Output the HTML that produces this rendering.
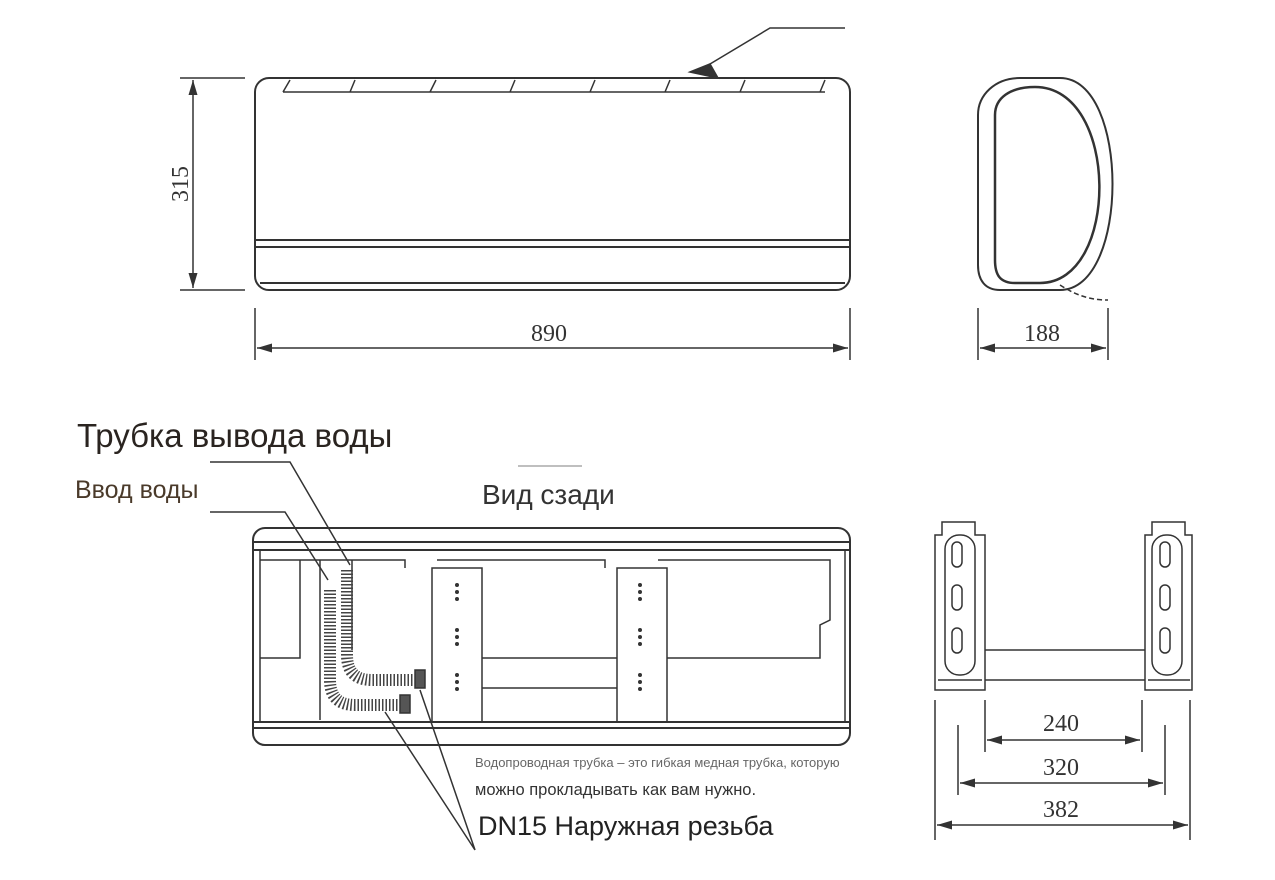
<!DOCTYPE html>
<html><head><meta charset="utf-8"><style>
body{margin:0;background:#fff;width:1275px;height:880px;overflow:hidden}
svg{display:block}
text{font-family:"Liberation Sans",sans-serif}
.s{font-family:"Liberation Serif",serif;font-size:24px;fill:#333}
</style></head><body>
<svg width="1275" height="880" viewBox="0 0 1275 880" fill="none" stroke="#333" stroke-width="1.5">
<defs><marker id="a" markerWidth="10" markerHeight="6" refX="10" refY="3" orient="auto-start-reverse"><path d="M0,0 L10,3 L0,6 z" fill="#333" stroke="none"/></marker></defs>
<rect x="255" y="78" width="595" height="212" rx="14" stroke-width="2"/>
<path d="M283,92 L825,92 M283,92 L290,80 M350,92 L355,80 M430,92 L436,80 M510,92 L515,80 M590,92 L595,80 M665,92 L670,80 M740,92 L745,80 M820,92 L825,80"/>
<path d="M255,240 H850 M255,247 H850 M260,283 H845" stroke-width="2"/>
<path d="M845,28 H770 L700,70" stroke-width="1.5"/>
<path d="M690,72 L710,64 L718,78 Z" fill="#333"/>
<path d="M180,78 H245 M180,290 H245"/>
<line x1="193" y1="80" x2="193" y2="288" marker-start="url(#a)" marker-end="url(#a)"/>
<text class="s" x="0" y="0" transform="translate(188,202) rotate(-90)" stroke="none">315</text>
<path d="M255,308 V360 M850,308 V360"/>
<line x1="257" y1="348" x2="848" y2="348" marker-start="url(#a)" marker-end="url(#a)"/>
<text class="s" x="531" y="341" stroke="none">890</text>
<path d="M1020,78 H1060 C1130,78 1130,290 1060,290 H1000 C985,290 978,280 978,265 V115 C978,95 995,78 1020,78 Z" stroke-width="2"/>
<path d="M1035,87 C1120,87 1120,283 1040,283 H1015 C1000,283 995,275 995,260 V115 C995,98 1010,87 1035,87 Z" stroke-width="2.5"/>
<path d="M1060,285 C1080,298 1095,300 1108,300" stroke-dasharray="5,3"/>
<path d="M978,308 V360 M1108,308 V360"/>
<line x1="980" y1="348" x2="1106" y2="348" marker-start="url(#a)" marker-end="url(#a)"/>
<text class="s" x="1024" y="341" stroke="none">188</text>
<path d="M518,466 H582" stroke="#aaa"/>
<rect x="253" y="528" width="597" height="217" rx="12" stroke-width="2"/>
<path d="M253,542 H850 M253,550 H850 M253,722 H850 M253,728 H850" stroke-width="2"/>
<path d="M260,550 V722 M845,550 V722"/>
<path d="M260,560 H405 V568 M437,560 H605 V568 M658,560 H830 V620 L820,625 V658 H667 M260,658 H300 V560 M320,560 V720 M352,560 V650"/>
<path d="M482,658 H617 M482,688 H617"/>
<rect x="432" y="568" width="50" height="154"/>
<rect x="617" y="568" width="50" height="154"/>
<g fill="#333" stroke="none">
<circle cx="457" cy="585" r="2"/><circle cx="457" cy="592" r="2"/><circle cx="457" cy="599" r="2"/>
<circle cx="457" cy="630" r="2"/><circle cx="457" cy="637" r="2"/><circle cx="457" cy="644" r="2"/>
<circle cx="457" cy="675" r="2"/><circle cx="457" cy="682" r="2"/><circle cx="457" cy="689" r="2"/>
<circle cx="640" cy="585" r="2"/><circle cx="640" cy="592" r="2"/><circle cx="640" cy="599" r="2"/>
<circle cx="640" cy="630" r="2"/><circle cx="640" cy="637" r="2"/><circle cx="640" cy="644" r="2"/>
<circle cx="640" cy="675" r="2"/><circle cx="640" cy="682" r="2"/><circle cx="640" cy="689" r="2"/>
</g>
<path d="M330,590 V680 Q330,705 355,705 H400" stroke-width="12" stroke="#444" stroke-dasharray="1.5,2"/>
<path d="M347,570 V655 Q347,680 372,680 H415" stroke-width="12" stroke="#444" stroke-dasharray="1.5,2"/>
<rect x="400" y="695" width="10" height="18" fill="#555"/>
<rect x="415" y="670" width="10" height="18" fill="#555"/>
<path d="M210,462 H290 L350,565 M210,512 H285 L328,580 M475,850 L385,712 M475,850 L420,690"/>
<g stroke-width="1.5">
<path d="M935,535 H942 V522 H975 V535 H985 V690 H935 Z"/>
<rect x="945" y="535" width="30" height="140" rx="14"/>
<rect x="952" y="542" width="10" height="25" rx="5"/><rect x="952" y="585" width="10" height="25" rx="5"/><rect x="952" y="628" width="10" height="25" rx="5"/>
<path d="M938,680 H982"/>
<path d="M1145,535 H1152 V522 H1185 V535 H1192 V690 H1145 Z"/>
<rect x="1152" y="535" width="30" height="140" rx="14"/>
<rect x="1160" y="542" width="10" height="25" rx="5"/><rect x="1160" y="585" width="10" height="25" rx="5"/><rect x="1160" y="628" width="10" height="25" rx="5"/>
<path d="M1148,680 H1190"/>
<path d="M985,650 H1145 M985,680 H1145"/>
</g>
<path d="M935,700 V840 M958,725 V795 M985,700 V752 M1142,700 V752 M1165,725 V795 M1190,700 V840"/>
<line x1="987" y1="740" x2="1140" y2="740" marker-start="url(#a)" marker-end="url(#a)"/>
<line x1="960" y1="783" x2="1163" y2="783" marker-start="url(#a)" marker-end="url(#a)"/>
<line x1="937" y1="825" x2="1188" y2="825" marker-start="url(#a)" marker-end="url(#a)"/>
<text class="s" x="1043" y="731" stroke="none">240</text>
<text class="s" x="1043" y="775" stroke="none">320</text>
<text class="s" x="1043" y="817" stroke="none">382</text>
<g stroke="none">
<text x="77" y="447" font-size="33" fill="#2a2420">Трубка вывода воды</text>
<text x="75" y="498" font-size="25" fill="#4a3a2a">Ввод воды</text>
<text x="482" y="504" font-size="28" fill="#333">Вид сзади</text>
<text x="475" y="767" font-size="13" fill="#666">Водопроводная трубка – это гибкая медная трубка, которую</text>
<text x="475" y="795" font-size="16.5" fill="#333">можно прокладывать как вам нужно.</text>
<text x="478" y="835" font-size="27" fill="#222">DN15 Наружная резьба</text>
</g>
</svg>
</body></html>
